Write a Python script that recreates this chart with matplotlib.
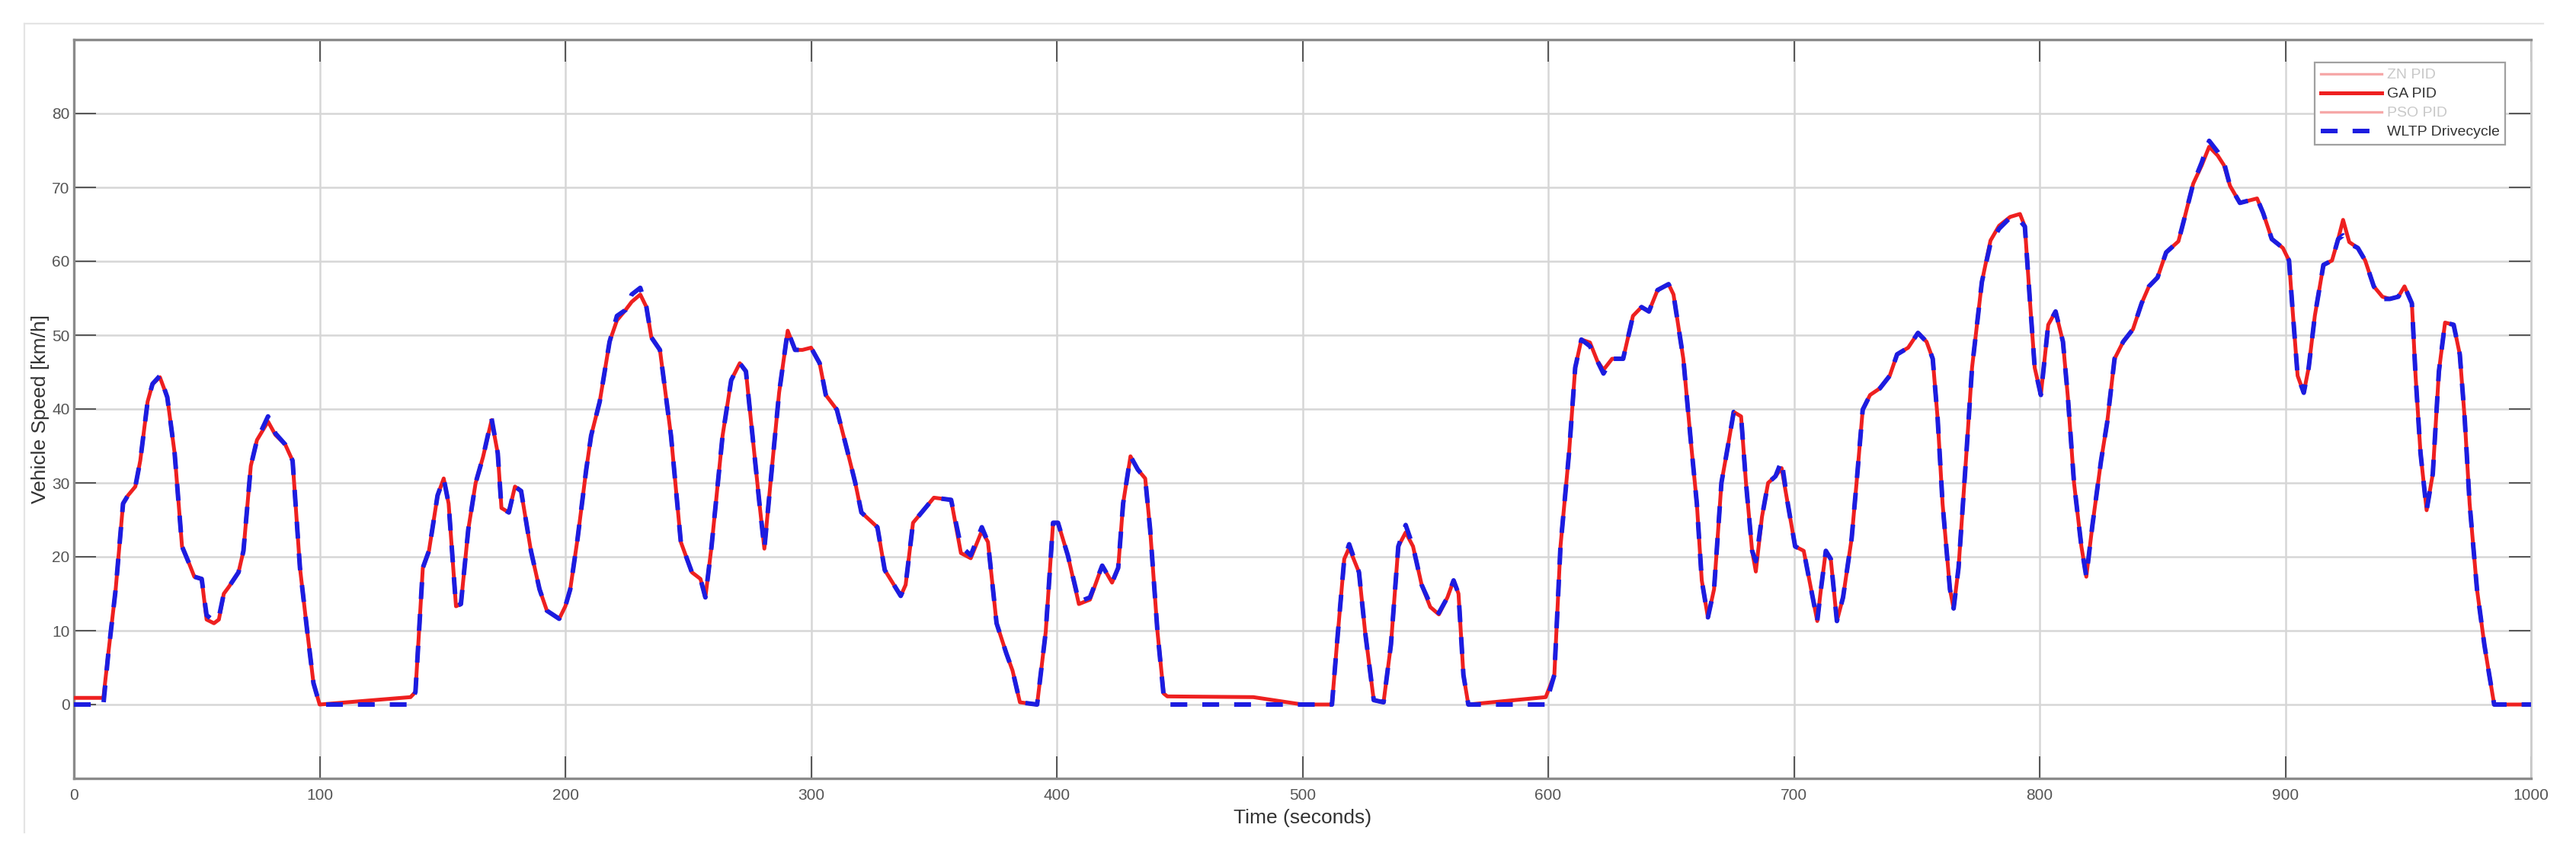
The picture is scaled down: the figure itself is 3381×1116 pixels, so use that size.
import numpy as np
import matplotlib
matplotlib.use("Agg")
import matplotlib.pyplot as plt
from matplotlib.lines import Line2D

plt.rcParams['font.family'] = ['Liberation Sans', 'DejaVu Sans']

# WLTP speed trace, seconds / km/h
time_s = [0, 12, 14, 17, 20, 22, 25, 27, 30, 32, 35, 38, 41, 44, 47, 49, 52, 54, 57, 59,
          61, 63, 67, 69, 72, 74.5, 79, 82, 86, 89, 92, 95, 97.5, 100,
          137, 139, 142, 144.5, 148, 150.5, 152.5, 155.5, 157.5, 160.5, 163.5, 166.5, 170,
          172.5, 174, 177, 179.5, 182, 186, 189.5, 192.5, 197.5, 200, 202, 205, 208.5, 210.5,
          214, 218, 221, 224.5, 227, 230.5, 233, 235, 238.5, 243, 247, 251.5, 255, 257, 259.5,
          264, 267.5, 271, 273.5, 276, 279, 281, 283.5, 287, 290.5, 293.5, 296.5, 300, 303.5,
          306, 310.5, 314.5, 318, 320.5, 327, 330, 336.5, 338.5, 341.5, 345, 350, 357, 361,
          365, 369.5, 372, 375.5, 379.5, 382, 385, 392, 395.5, 398.5, 400.5, 404.5, 409, 413.5,
          418.5, 422.5, 425, 427, 430, 433, 436, 438, 441, 443.5, 445, 480, 500,
          512, 514, 517, 519, 523, 525.5, 529, 533, 536, 539, 542, 545, 548.5, 552, 555.5, 559,
          561.5, 563.5, 565.5, 567.5, 599, 602.5, 605, 608.5, 611, 613.5, 617, 620, 622.5, 626,
          630.5, 634.5, 638, 641, 644.5, 649, 651, 655, 658, 660.5, 662.5, 665, 667.5, 670.5,
          673, 675.5, 678.5, 680.5, 683, 684.5, 687, 689.5, 692.5, 695, 697.5, 700.5, 704, 707,
          709.5, 711, 713, 715, 717.5, 720, 723.5, 725.5, 728, 731, 735, 739, 742, 746.5, 750.5,
          754, 756.5, 758.5, 760.5, 763.5, 765, 767, 770, 772.5, 776.5, 780, 783.5, 788, 792,
          794, 796, 798, 800.5, 803.5, 806.5, 809.5, 811.5, 814, 817, 819, 821.5, 825, 827.5,
          830.5, 834, 838, 841.5, 844.5, 848, 851.5, 856.5, 859, 862.5, 866, 869, 872.5, 875,
          877.5, 881.5, 885, 888.5, 891, 894.5, 899, 901.5, 903, 905, 907.5, 909.5, 912, 915.5,
          919, 921.5, 923.5, 926, 929.5, 932.5, 936, 939.5, 942.5, 946, 948.5, 951.5, 953, 955,
          957.5, 960, 962.5, 965, 968.5, 971, 973, 975, 978, 981, 983, 985, 1000]

wltp_speed = [0, 0, 6.9, 15.6, 27.2, 28.3, 29.5, 33, 41, 43.4, 44.5, 41.6, 34, 21.4, 19, 17.3,
              17, 12.1, 11.3, 11.8, 15, 15.9, 17.9, 20.8, 32.3, 35.8, 39, 36.7, 35.2, 33, 18.5,
              9.8, 2.9, 0,
              0, 1.7, 18.5, 20.8, 28.3, 30.6, 27.2, 13.3, 13.6, 23.7, 30, 33.5, 38.7,
              34, 26.6, 26, 29.5, 28.9, 20.8, 15.6, 12.7, 11.6, 13.3, 15.6, 22.5, 31.8, 36.4,
              41, 49.1, 52.6, 53.4, 55.5, 56.4, 53.8, 49.7, 48, 36.4, 22, 17.9, 17, 14.5, 21.4,
              36.4, 43.9, 46.2, 45.1, 37, 27.2, 21.1, 30, 42.2, 50.6, 48, 48, 48.3, 46.2,
              41.9, 39.9, 34.7, 30, 26, 24, 18.2, 14.7, 16.2, 24.6, 26, 28, 27.7, 21.4,
              20.2, 24, 22, 11, 6.9, 4.6, 0.3, 0, 9.8, 24.6, 24.6, 20.2, 13.9, 14.5,
              18.8, 16.5, 18.5, 27.2, 33.6, 31.8, 30.6, 23.7, 9.8, 1.2, 0, 0, 0,
              0, 8.1, 19.7, 21.7, 17.9, 9.8, 0.6, 0.3, 8.1, 21.4, 24.3, 21.4, 16.2, 13.6, 12.4, 14.5,
              16.8, 15, 4, 0, 0, 4, 21.4, 34.1, 45.6, 49.4, 48.5, 46.5, 44.8, 46.8,
              46.8, 52.6, 53.8, 53.2, 56.1, 56.9, 55.5, 46.8, 35.8, 27.2, 16.8, 11.8, 15.6, 30,
              34.7, 39.6, 39, 30, 20.8, 19.4, 25.4, 30, 30.9, 33, 27.2, 21.4, 20.8, 15.6,
              11.3, 15.6, 20.8, 19.7, 11.3, 14.5, 22.5, 30, 39.9, 41.9, 42.8, 44.5, 47.4, 48.3, 50.3,
              49.1, 46.8, 38.7, 27.2, 15.6, 13, 18.5, 33, 45.6, 57.2, 62.4, 64.4, 65.9, 65.5,
              64.7, 54.9, 45.6, 41.9, 51.4, 53.2, 49.1, 41.6, 30, 21.4, 17.3, 24.3, 33, 38.2,
              46.8, 49.1, 50.8, 54.3, 56.6, 57.8, 61.2, 62.7, 65.9, 70.5, 73.4, 76.3, 74.8, 73.4,
              70.2, 67.9, 68.2, 68.5, 66.5, 63, 61.8, 60.1, 53.2, 44.5, 42.2, 45.6, 52.6, 59.5,
              60.1, 63, 63.5, 62.4, 61.8, 60.1, 56.6, 54.9, 54.9, 55.2, 56.6, 54.3, 44.5, 34.1,
              26.3, 31.2, 45.1, 51.7, 51.4, 47.4, 38.7, 27.2, 15.6, 8.1, 4, 0, 0]

# GA PID response, same time base
ga_speed = [0.9, 0.9, 6.9, 15.6, 27.2, 28.3, 29.5, 33, 41, 43.4, 44.3, 41.6, 34, 21.4, 19, 17.3,
            17, 11.5, 11.0, 11.5, 15, 15.9, 17.9, 20.8, 32.3, 35.8, 38.3, 36.5, 35.2, 33, 18.5,
            9.8, 2.9, 0,
            1.0, 1.7, 18.5, 20.8, 28.3, 30.6, 27.2, 13.3, 13.6, 23.7, 30, 33.5, 38.5,
            34, 26.6, 26, 29.5, 28.9, 20.8, 15.6, 12.7, 11.6, 13.3, 15.6, 22.5, 31.8, 36.4,
            41, 49.1, 52.0, 53.4, 54.5, 55.5, 53.8, 49.7, 48, 36.4, 22, 17.9, 17, 14.5, 21.4,
            36.4, 43.9, 46.2, 45.1, 37, 27.2, 21.1, 30, 42.2, 50.6, 48, 48, 48.3, 46.2,
            41.9, 39.9, 34.7, 30, 26, 24, 18.2, 14.7, 16.2, 24.6, 26, 28, 27.7, 20.5,
            19.8, 23.5, 22, 11, 6.9, 4.6, 0.3, 0, 9.8, 24.6, 24.6, 20.2, 13.6, 14.2,
            18.8, 16.5, 18.5, 27.2, 33.6, 31.8, 30.6, 23.7, 9.8, 1.5, 1.1, 1.0, 0,
            0, 8.1, 19.7, 21.2, 17.9, 9.8, 0.6, 0.3, 8.1, 21.4, 23.3, 21.4, 16.2, 13.2, 12.2, 14.5,
            16.8, 15, 4, 0, 1.0, 4, 21.4, 34.1, 45.6, 49.4, 49.0, 46.5, 45.3, 46.8,
            46.8, 52.6, 53.8, 53.2, 56.1, 56.9, 55.5, 46.8, 35.8, 27.2, 16.8, 11.8, 15.6, 30,
            34.7, 39.6, 39, 30, 20.8, 18.0, 25.4, 30, 30.9, 32.0, 27.2, 21.4, 20.8, 15.6,
            11.3, 15.6, 20.8, 19.7, 11.3, 14.5, 22.5, 30, 39.9, 41.9, 42.8, 44.5, 47.4, 48.3, 50.3,
            49.1, 46.8, 38.7, 27.2, 15.6, 13, 18.5, 33, 45.6, 57.2, 62.8, 64.8, 66.0, 66.4,
            64.7, 54.9, 45.6, 41.9, 51.4, 53.2, 49.1, 41.6, 30, 21.4, 17.3, 24.3, 33, 38.2,
            46.8, 49.1, 50.8, 54.3, 56.6, 57.8, 61.2, 62.7, 65.9, 70.5, 73.0, 75.5, 74.3, 73.0,
            70.2, 67.9, 68.2, 68.5, 66.5, 63, 61.8, 60.1, 53.2, 44.5, 42.2, 45.6, 52.6, 59.5,
            60.1, 63, 65.6, 62.6, 61.8, 60.1, 56.6, 55.2, 54.9, 55.2, 56.6, 54.3, 44.5, 34.1,
            26.3, 31.2, 45.1, 51.7, 51.4, 47.4, 38.7, 27.2, 15.6, 8.1, 4, 0, 0]

legend_labels = ['ZN PID', 'GA PID', 'PSO PID', 'WLTP Drivecycle']
x_ticks = list(range(0, 1001, 100))
y_ticks = list(range(0, 81, 10))

assert len(time_s) == len(wltp_speed) == len(ga_speed)

fig = plt.figure(figsize=(33.81, 11.16), dpi=100)
ax = fig.add_axes([97/3381, 1 - 1022/1116, (3322 - 97)/3381, (1022 - 52)/1116])

# light frame around the screenshot
W, H = 3381, 1116
fig.add_artist(Line2D([32/W, 3338/W], [1 - 31/H, 1 - 31/H], color='#e4e4e4', lw=1.6))
fig.add_artist(Line2D([32/W, 32/W], [1 - 31/H, 1 - 1093/H], color='#e4e4e4', lw=1.6))

red = '#ee2020'
blue = '#1c1ce0'
pink = '#f6a8a8'

ax.plot(time_s, ga_speed, color=red, lw=3.6, zorder=3,
        solid_joinstyle='round', solid_capstyle='round')
ax.plot(time_s, wltp_speed, color=blue, lw=4.3, linestyle=(0, (3.7, 3.3)), zorder=4,
        dash_joinstyle='round')

ax.set_xlim(0, 1000)
ax.set_ylim(-10, 90)
ax.set_xticks(x_ticks)
ax.set_yticks(y_ticks)
ax.grid(True, color='#d6d6d6', lw=1.8)
ax.set_axisbelow(True)

ax.tick_params(direction='in', length=21, width=1.4, color='#555555',
               top=True, right=True, labelsize=15, labelcolor='#555555')
ax.tick_params(axis='x', pad=9)
ax.tick_params(axis='y', pad=4)

for side in ['left', 'bottom', 'top']:
    ax.spines[side].set_color('#8a8a8a')
    ax.spines[side].set_linewidth(2.4)
ax.spines['right'].set_color('#cccccc')
ax.spines['right'].set_linewidth(2.0)

ax.set_xlabel('Time (seconds)', fontsize=19, color='#333333', labelpad=6)
ax.set_ylabel('Vehicle Speed [km/h]', fontsize=19, color='#333333', labelpad=2)

handles = [Line2D([], [], color=pink, lw=2.4),
           Line2D([], [], color=red, lw=3.6),
           Line2D([], [], color=pink, lw=2.4),
           Line2D([], [], color=blue, lw=4.3, linestyle=(0, (3.7, 3.3)))]
leg = ax.legend(handles, legend_labels, loc='upper right', bbox_to_anchor=(0.9926, 0.979),
                fontsize=14, handlelength=4.1, handletextpad=0.35, labelspacing=0.38,
                borderpad=0.4, fancybox=False, framealpha=1, edgecolor='#a0a0a0')
leg.get_frame().set_linewidth(1.6)
for txt, c in zip(leg.get_texts(), ['#c8c8c8', '#333333', '#c8c8c8', '#333333']):
    txt.set_color(c)

fig.savefig('out.png', dpi=100)
